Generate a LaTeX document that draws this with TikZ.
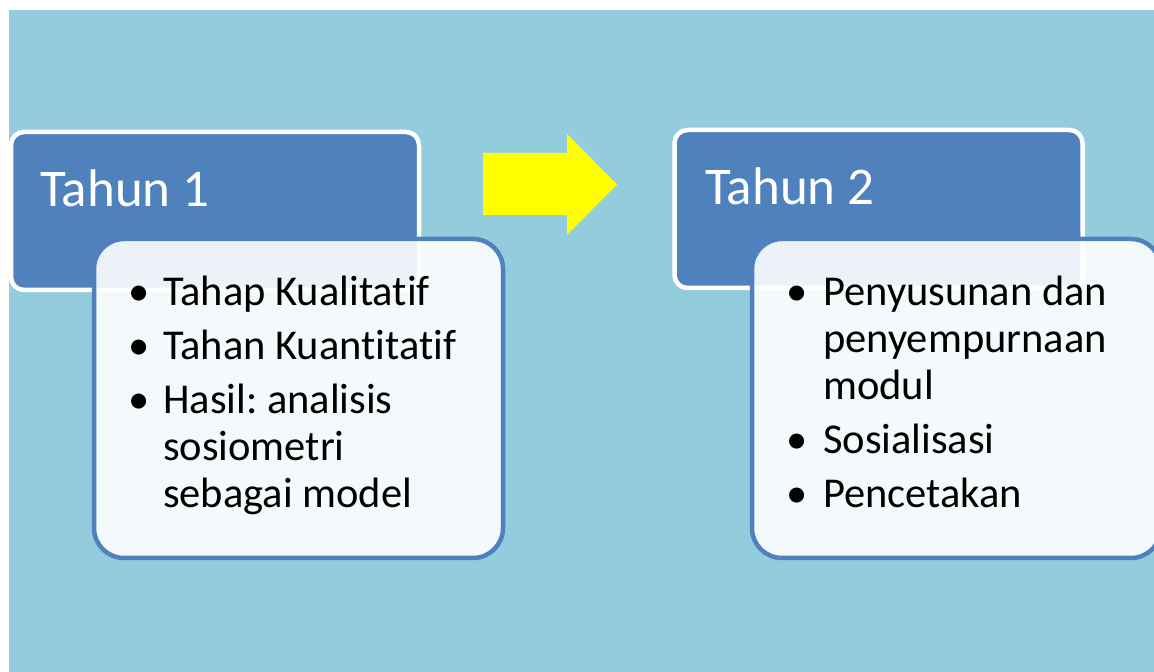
\documentclass[tikz,border=0pt]{standalone}
\usepackage{fontspec}
\setmainfont{Carlito}[RawFeature={-liga;-clig}]
\usepackage{tikz}
\definecolor{latar}{HTML}{93CDDD}
\definecolor{biru}{HTML}{4F81BD}
\definecolor{kuning}{HTML}{FFFF00}
\frenchspacing

\begin{document}
\begin{tikzpicture}[
  x=1pt, y=1pt,
  kepala/.style={draw=white, line width=4.5pt, fill=biru, rounded corners=13pt,
    minimum width=408pt, minimum height=158pt, inner sep=0pt},
  isi/.style={draw=biru, line width=4.5pt, fill=white, fill opacity=0.9,
    rounded corners=30pt, minimum width=409pt, minimum height=319pt, inner sep=0pt},
  judul/.style={anchor=base west, inner sep=0pt, text=white,
    font=\fontsize{53}{62}\selectfont},
  daftar/.style={anchor=base west, inner sep=0pt, font=\fontsize{42.5}{47}\selectfont}
]
\useasboundingbox (0,0) rectangle (1154,672);
\clip (0,0) rectangle (1154,672);
\fill[white] (0,0) rectangle (1154,672);
\fill[latar] (9,0) rectangle (1154,662);

% tahun pertama
\node[kepala] (kepala1) at (215,461) {};
\node[isi] (isi1) at (298.5,273.5) {};
\node[judul] (judul1) at (40,465) {Tahun 1};
\node[daftar] (poin1) at (128,366) {%
  \begin{tabular}[t]{@{}p{35pt}@{}l@{}}
  \textbullet & Tahap Kualitatif\\[7pt]
  \textbullet & Tahan Kuantitatif\\[7pt]
  \textbullet & Hasil: analisis\\
              & sosiometri\\
              & sebagai model
  \end{tabular}};

% panah
\fill[kuning] (483,519) -- (567,519) -- (567,538) -- (617,487.5)
  -- (567,437) -- (567,457) -- (483,457) -- cycle;

% tahun kedua
\node[kepala] (kepala2) at (878.5,463) {};
\node[isi] (isi2) at (956.5,273.5) {};
\node[judul] (judul2) at (705,467) {Tahun 2};
\node[daftar] (poin2) at (786,366) {%
  \begin{tabular}[t]{@{}p{37pt}@{}l@{}}
  \textbullet & Penyusunan dan\\
              & penyempurnaan\\
              & modul\\[7pt]
  \textbullet & Sosialisasi\\[7pt]
  \textbullet & Pencetakan
  \end{tabular}};
\end{tikzpicture}
\end{document}
